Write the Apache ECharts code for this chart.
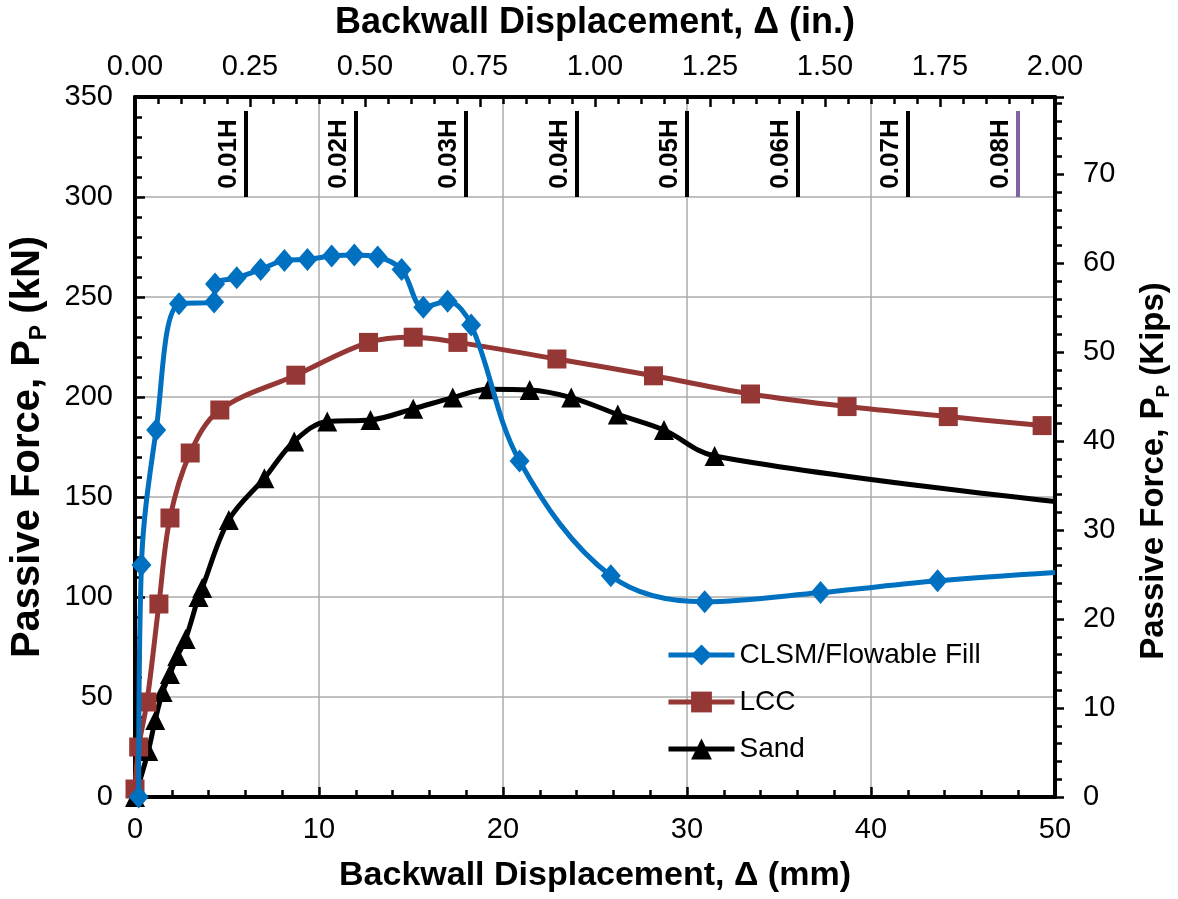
<!DOCTYPE html>
<html>
<head>
<meta charset="utf-8">
<script src="https://cdn.jsdelivr.net/npm/echarts@6/dist/echarts.min.js"></script>
<style>
html,body{margin:0;padding:0;background:#fff;}
#c{width:1178px;height:899px;}
</style>
</head>
<body>
<div id="c"></div>
<script>
// Data: [displacement (mm), passive force (kN)]
const clsmData = [[0.2,0],[0.35,116],[1.15,183.5],[2.39,246.6],[4.3,247.5],[4.35,256.5],[5.53,259.6],[6.83,263.8],[8.12,268.3],[9.37,268.8],[10.69,270.5],[11.92,271],[13.19,270],[14.49,263.8],[15.67,244.9],[16.99,247.9],[18.27,236],[20.9,168],[25.86,110.6],[30.96,97.6],[37.26,102.2],[43.62,108.1],[50,112.3]];
const lccData = [[0,4],[0.2,25],[0.65,47.5],[1.3,96.5],[1.9,139.5],[3.0,172],[4.61,193.5],[8.74,210.9],[12.69,227.3],[15.12,229.9],[17.55,227.3],[22.93,219],[28.18,210.6],[33.45,201.5],[38.7,195.2],[44.2,190.2],[49.3,185.7]];
const sandData = [[0,0],[0.72,23],[1.1,38.5],[1.5,52.5],[1.9,61.5],[2.3,70.5],[2.75,79],[3.45,100],[3.65,104.5],[5.1,138.5],[7.03,159.4],[8.65,177.8],[10.45,187.8],[12.8,188.5],[15.12,194.1],[17.27,199.7],[19.2,203.9],[21.45,203.5],[23.71,199.7],[26.24,191.3],[28.75,183.5],[31.5,170.5],[50,147.7]];
// the last CLSM and Sand points are where the curves leave the plot (no marker shown)
const clsmMarkerless = [22];
const sandMarkerless = [22];
const seriesNames = ['CLSM/Flowable Fill','LCC','Sand'];
// Height-ratio reference lines (mm) and labels
const hLabels = ['0.01H','0.02H','0.03H','0.04H','0.05H','0.06H','0.07H','0.08H'];
const hPositions = [6,12,18,24,30,36,42,48];
const hRange = [300,343];
const KN_PER_KIP = 4.448222;

const chart = echarts.init(document.getElementById('c'), null, {renderer:'canvas'});
const FONT = '"Liberation Sans", Arial, sans-serif';
const axisLine = {show:true, onZero:false, lineStyle:{color:'#000', width:4}};
const tickStyle = {color:'#000', width:2.5};

function items(data, hidden){
  return data.map((d,i)=> hidden.indexOf(i) >= 0 ? {value:d, symbol:'none'} : {value:d});
}

const markData = hPositions.map((x,i)=>[
  {coord:[x,hRange[0]], lineStyle:{color: i===hPositions.length-1 ? '#8064A2' : '#000', width:4, type:'solid'}},
  {coord:[x,hRange[1]], name:hLabels[i]}
]);

function subRich(size){
  return {sub:{fontFamily:FONT, fontSize:Math.round(size*0.58), fontWeight:'bold', color:'#000',
    lineHeight:Math.round(size*0.58), verticalAlign:'bottom'}};
}

const option = {
  animation:false,
  textStyle:{fontFamily:FONT},
  grid:{left:135, right:123, top:97, bottom:102, containLabel:false, outerBoundsMode:'none'},
  legend:{
    data:seriesNames, orient:'vertical', left:661, top:636,
    itemWidth:66, itemHeight:26, itemGap:19,
    lineStyle:{width:5},
    textStyle:{fontFamily:FONT, fontSize:28, color:'#000'}
  },
  xAxis:[
    {type:'value', position:'bottom', min:0, max:50, interval:10,
     name:'Backwall Displacement, Δ (mm)', nameLocation:'middle', nameGap:62,
     nameTextStyle:{fontFamily:FONT, fontSize:34, fontWeight:'bold', color:'#000'},
     axisLine:axisLine,
     axisTick:{show:true, inside:true, length:10, lineStyle:tickStyle},
     minorTick:{show:true, splitNumber:5, length:7, lineStyle:tickStyle},
     axisLabel:{fontFamily:FONT, fontSize:29, color:'#000', margin:18},
     splitLine:{show:true, lineStyle:{color:'#ababab', width:1.5}}},
    {type:'value', position:'top', min:0, max:2, interval:0.25,
     name:'Backwall Displacement, Δ (in.)', nameLocation:'middle', nameGap:56,
     nameTextStyle:{fontFamily:FONT, fontSize:36, fontWeight:'bold', color:'#000'},
     axisLine:axisLine,
     axisTick:{show:true, inside:true, length:10, lineStyle:tickStyle},
     minorTick:{show:true, splitNumber:5, length:7, lineStyle:tickStyle},
     axisLabel:{fontFamily:FONT, fontSize:29, color:'#000', margin:16, formatter:v=>v.toFixed(2)},
     splitLine:{show:false}}
  ],
  yAxis:[
    {type:'value', position:'left', min:0, max:350, interval:50,
     name:'Passive Force, P{sub|P} (kN)', nameLocation:'middle', nameGap:84,
     nameTextStyle:{fontFamily:FONT, fontSize:40, fontWeight:'bold', color:'#000', lineHeight:46, rich:subRich(40)},
     axisLine:axisLine,
     axisTick:{show:true, inside:true, length:10, lineStyle:tickStyle},
     minorTick:{show:true, splitNumber:5, length:7, lineStyle:tickStyle},
     axisLabel:{fontFamily:FONT, fontSize:29, color:'#000', margin:22},
     splitLine:{show:true, lineStyle:{color:'#ababab', width:1.5}}},
    {type:'value', position:'right', min:0, max:350/KN_PER_KIP, interval:10,
     name:'Passive Force, P{sub|P} (Kips)', nameLocation:'middle', nameGap:80,
     nameTextStyle:{fontFamily:FONT, fontSize:33, fontWeight:'bold', color:'#000', lineHeight:38,
       padding:[0,48,0,0], rich:subRich(33)},
     axisLine:axisLine,
     axisTick:{show:true, inside:false, length:9, lineStyle:tickStyle},
     minorTick:{show:true, splitNumber:5, length:7, lineStyle:tickStyle},
     axisLabel:{fontFamily:FONT, fontSize:29, color:'#000', margin:28, showMaxLabel:false,
       formatter:v=> (Math.abs(v%10)<1e-6 ? String(v) : '')},
     splitLine:{show:false}}
  ],
  series:[
    {name:'H markers', type:'line', xAxisIndex:0, yAxisIndex:0, data:[], silent:true,
     markLine:{silent:true, symbol:['none','none'], animation:false,
       lineStyle:{color:'#000', width:4, type:'solid'},
       label:{show:true, position:'insideMiddleTop', formatter:p=>p.name, distance:4,
         fontFamily:FONT, fontSize:26, fontWeight:'bold', color:'#000'},
       data:markData}},
    {name:seriesNames[2], type:'line', xAxisIndex:0, yAxisIndex:0, data:items(sandData, sandMarkerless),
     smooth:0.35, symbol:'triangle', symbolSize:20,
     lineStyle:{color:'#000', width:5}, itemStyle:{color:'#000'}, z:3},
    {name:seriesNames[1], type:'line', xAxisIndex:0, yAxisIndex:0, data:lccData,
     smooth:0.35, symbol:'rect', symbolSize:19,
     lineStyle:{color:'#953735', width:5}, itemStyle:{color:'#953735'}, z:4},
    {name:seriesNames[0], type:'line', xAxisIndex:0, yAxisIndex:0, data:items(clsmData, clsmMarkerless),
     smooth:0.35, symbol:'diamond', symbolSize:[20,23],
     lineStyle:{color:'#0070C0', width:5}, itemStyle:{color:'#0070C0'}, z:5}
  ]
};
chart.setOption(option);
</script>
</body>
</html>
